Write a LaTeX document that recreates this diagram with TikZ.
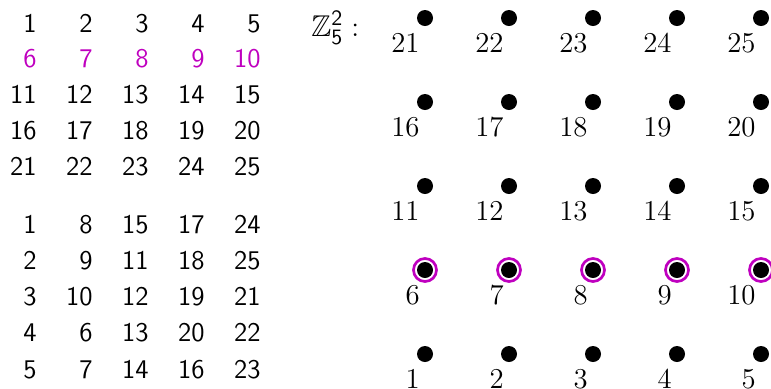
\documentclass[tikz,border=0pt]{standalone}
\usepackage{amssymb}
\usetikzlibrary{calc}

\definecolor{hlmag}{RGB}{191,0,191}

\begin{document}
\begin{tikzpicture}[
    x=0.5pt, y=-0.5pt,
    cell/.style={anchor=base east, inner sep=0pt, font=\sffamily\fontsize{13.5}{16}\selectfont},
    dot/.style={circle, fill=black, inner sep=0pt, minimum size=8pt},
    ring/.style={circle, draw=hlmag, line width=1.35pt, inner sep=0pt, minimum size=11.5pt},
    lbl/.style={anchor=north east, inner sep=0pt, font=\fontsize{15}{18}\selectfont}
]
\useasboundingbox (0,0) rectangle (771,388);

% Upper table
\foreach \r in {1,...,5}
  \foreach \c in {1,...,5} {
    \pgfmathtruncatemacro{\n}{5*(\r-1)+\c}
    \ifnum\r=2 \def\col{hlmag}\else\def\col{black}\fi
    \node [cell, text=\col] (a-\r-\c) at ({37+56*(\c-1)}, {32+35.8*(\r-1)}) {\n};
  }

% Lower table
\foreach \r/\vals in {1/{1,8,15,17,24}, 2/{2,9,11,18,25}, 3/{3,10,12,19,21},
                      4/{4,6,13,20,22}, 5/{5,7,14,16,23}}
  \foreach \v [count=\c] in \vals
    \node [cell] (b-\r-\c) at ({37+56*(\c-1)}, {233+36.25*(\r-1)}) {\v};

% Grid of points
\node [anchor=base west, inner sep=0pt, font=\fontsize{15}{18}\selectfont] (zlab) at (311,36)
  {$\mathbb{Z}_{\mathsf{5}}^{\mathsf{2}}:$};
\foreach \r in {1,...,5}
  \foreach \c in {1,...,5} {
    \pgfmathtruncatemacro{\n}{5*(\r-1)+\c}
    \node [dot] (d\n) at ({425+84*(\c-1)}, {354-84*(\r-1)}) {};
    \ifnum\r=2 \node [ring] (r\n) at (d\n) {};\fi
    \node [lbl] (l\n) at ($(d\n)+(-5,16)$) {$\n$};
  }

\end{tikzpicture}
\end{document}
